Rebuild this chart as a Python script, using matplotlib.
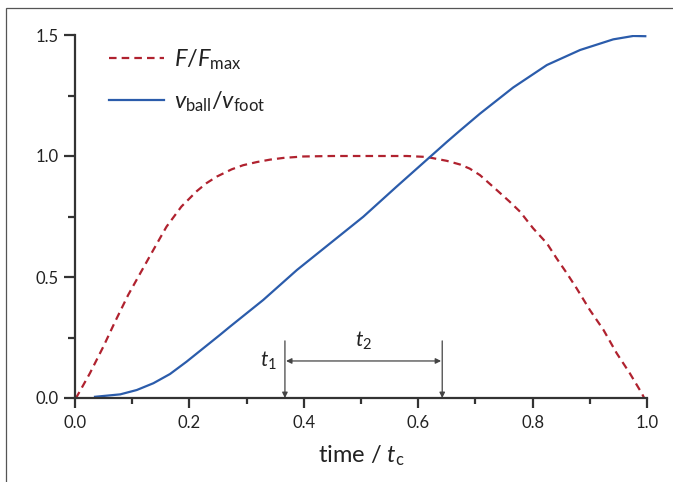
import matplotlib
matplotlib.use("Agg")
import matplotlib.pyplot as plt
from matplotlib.patches import Rectangle
from matplotlib.ticker import MultipleLocator

plt.rcParams['font.family'] = ['Lato', 'DejaVu Sans']
plt.rcParams['mathtext.fontset'] = 'custom'
plt.rcParams['mathtext.rm'] = 'Lato'
plt.rcParams['mathtext.it'] = 'Lato:italic'
plt.rcParams['mathtext.bf'] = 'Lato:bold'

# Force ratio F/Fmax
force_t = [0.0, 0.003, 0.026, 0.0495, 0.070, 0.093, 0.114, 0.137, 0.160, 0.186, 0.213,
           0.230, 0.248, 0.274, 0.294, 0.318, 0.341, 0.364, 0.399, 0.45, 0.50, 0.58, 0.615,
           0.650, 0.673, 0.690, 0.708, 0.737, 0.760, 0.778, 0.801, 0.825, 0.842, 0.860,
           0.877, 0.900, 0.924, 0.947, 0.970, 0.991, 0.995]
force_v = [0.0, 0.005, 0.102, 0.212, 0.315, 0.426, 0.515, 0.612, 0.708, 0.791, 0.855,
           0.888, 0.915, 0.945, 0.962, 0.975, 0.985, 0.992, 0.998, 1.0, 1.0, 1.0, 0.996,
           0.980, 0.965, 0.948, 0.921, 0.86, 0.811, 0.77, 0.701, 0.639, 0.577, 0.515,
           0.453, 0.364, 0.281, 0.185, 0.102, 0.019, 0.0]

# Velocity ratio v_ball / v_foot
vel_t = [0.035, 0.079, 0.108, 0.137, 0.166, 0.195, 0.224, 0.253, 0.271, 0.329, 0.388,
         0.446, 0.504, 0.562, 0.621, 0.650, 0.673, 0.708, 0.766, 0.825, 0.883, 0.941,
         0.976, 0.997]
vel_v = [0.005, 0.015, 0.033, 0.061, 0.099, 0.15, 0.205, 0.26, 0.295, 0.405, 0.529,
         0.639, 0.749, 0.873, 0.997, 1.058, 1.105, 1.175, 1.283, 1.376, 1.438, 1.482,
         1.496, 1.495]

xticks = [0.0, 0.2, 0.4, 0.6, 0.8, 1.0]
yticks = [0.0, 0.5, 1.0, 1.5]
t1 = 0.367
t2_end = 0.642

fig = plt.figure(figsize=(6.73, 4.82), dpi=100)
ax = fig.add_axes([75/673, 1-398/482, 572/673, 363/482])

red = '#b0222f'
blue = '#2b5cab'
ax.plot(force_t, force_v, color=red, lw=1.6, dashes=(3.4, 2.3), label=r'$F/F_{\mathrm{max}}$')
ax.plot(vel_t, vel_v, color=blue, lw=1.6, label=r'$v_{\mathrm{ball}}/v_{\mathrm{foot}}$')

ax.set_xlim(0, 1.0)
ax.set_ylim(0, 1.5)
for s in ['top', 'right']:
    ax.spines[s].set_visible(False)
for s in ['left', 'bottom']:
    ax.spines[s].set_color('#333333')
    ax.spines[s].set_linewidth(1.6)
ax.set_xticks(xticks)
ax.set_yticks(yticks)
ax.set_xticklabels([f'{v:.1f}' for v in xticks])
ax.set_yticklabels([f'{v:.1f}' for v in yticks])
ax.xaxis.set_minor_locator(MultipleLocator(0.1))
ax.yaxis.set_minor_locator(MultipleLocator(0.25))
ax.tick_params(axis='both', which='both', direction='out', color='#333333', width=1.6,
               labelsize=12, labelcolor='#222222')
ax.tick_params(axis='x', which='major', length=7.5, pad=5)
ax.tick_params(axis='x', which='minor', length=4)
ax.tick_params(axis='y', which='major', length=8, pad=4)
ax.tick_params(axis='y', which='minor', length=5)
ax.set_xlabel(r'time / $t_{\mathrm{c}}$', fontsize=17, color='#222222', labelpad=9)

# annotations
ac = '#444444'
ax.annotate('', xy=(t1, 0.0), xytext=(t1, 0.236),
            arrowprops=dict(arrowstyle='-|>', color=ac, lw=0.9, mutation_scale=8, shrinkA=0, shrinkB=0))
ax.annotate('', xy=(t2_end, 0.0), xytext=(t2_end, 0.236),
            arrowprops=dict(arrowstyle='-|>', color=ac, lw=0.9, mutation_scale=8, shrinkA=0, shrinkB=0))
ax.annotate('', xy=(t1 + 0.002, 0.153), xytext=(t2_end - 0.002, 0.153),
            arrowprops=dict(arrowstyle='<|-|>', color=ac, lw=0.9, mutation_scale=8, shrinkA=0, shrinkB=0))
ax.text(t1 - 0.014, 0.153, r'$t_1$', ha='right', va='center', fontsize=15, color='#222222')
ax.text((t1 + t2_end) / 2, 0.19, r'$t_2$', ha='center', va='bottom', fontsize=15, color='#222222')

leg = ax.legend(loc='upper left', bbox_to_anchor=(109/673, 1 - 47/482),
                bbox_transform=fig.transFigure, frameon=False, fontsize=17,
                handlelength=2.35, handletextpad=0.42, labelspacing=0.75,
                borderpad=0, borderaxespad=0)
for t in leg.get_texts():
    t.set_color('#222222')

fig.patches.append(Rectangle((6/673, -0.2), 1.5, 1.2 - 8/482, transform=fig.transFigure,
                             fill=False, edgecolor='#555555', lw=0.9, clip_on=False))

fig.savefig('out.png', dpi=100)
